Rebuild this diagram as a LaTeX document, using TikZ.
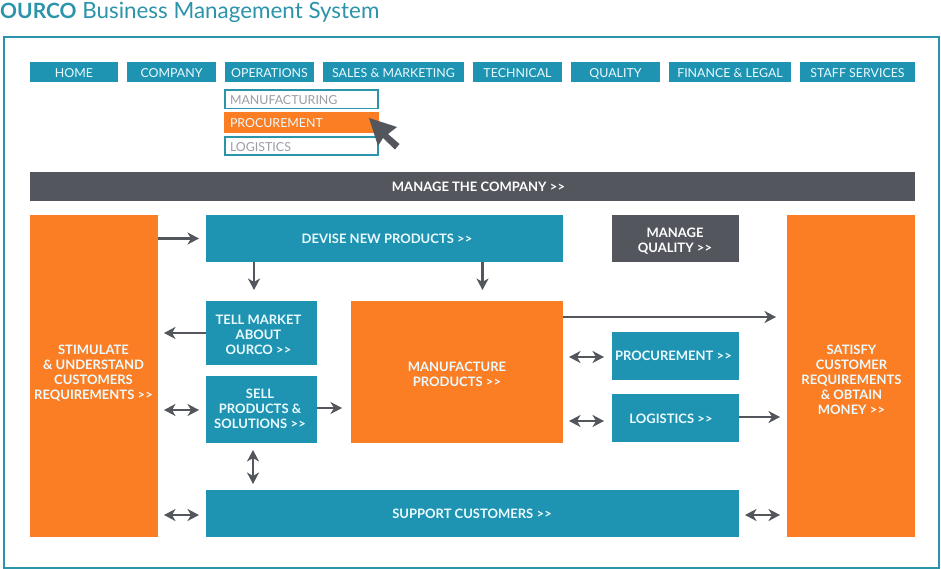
\documentclass[tikz,border=0pt]{standalone}
\usepackage{fontspec}
\setmainfont{Lato}
\usetikzlibrary{arrows.meta}
\definecolor{tealbox}{HTML}{1F93B2}
\definecolor{tealline}{HTML}{2B94AB}
\definecolor{orangebox}{HTML}{FB7D24}
\definecolor{slatebox}{HTML}{54565D}
\definecolor{greytext}{HTML}{9A9EA2}
\definecolor{lightline}{HTML}{EAFBFF}
\newcommand{\bx}[7][]{%
  \pgfmathsetmacro{\bxw}{#5-#3}\pgfmathsetmacro{\bxh}{#6-#4}%
  \pgfmathsetmacro{\bxx}{(#3+#5)/2}\pgfmathsetmacro{\bxy}{(#4+#6)/2}%
  \node[#1,minimum width=\bxw pt,minimum height=\bxh pt] (#2) at (\bxx,\bxy) {#7};}
% text placed dx right and dy down of the box centre, whatever its own extents
\newcommand{\tx}[3]{\raisebox{\dimexpr-4.7pt-#2pt\relax}[0pt][0pt]{\makebox[0pt]{\hspace*{\dimexpr 2\dimexpr #1pt\relax\relax}\begin{tabular}{@{}c@{}}#3\end{tabular}}}}
\newcommand{\lft}[1]{\raisebox{-5.4pt}[0pt][0pt]{\makebox[0pt][l]{\hspace*{-71.5pt}#1}}}
\newcommand{\gtgt}{>\kern0.2pt>}
\tikzset{
  x=1pt,y=-1pt,
  boxbase/.style={inner sep=0pt,outer sep=0pt,align=center,font=\fontsize{13}{15}\selectfont\bfseries,text=lightline},
  tealnode/.style={boxbase,fill=tealbox},
  orangenode/.style={boxbase,fill=orangebox},
  slatenode/.style={boxbase,fill=slatebox,text=white},
  navnode/.style={tealnode,font=\fontsize{12.4}{15}\selectfont},
  dropnode/.style={inner sep=0pt,outer sep=0pt,font=\fontsize{12.4}{15}\selectfont,text=greytext,fill=white,draw=tealline,line width=1.1pt},
  conn/.style={draw=slatebox,line width=2.2pt,-{Stealth[length=11.5pt,width=12pt,inset=3.5pt]}},
  conn2/.style={draw=slatebox,line width=2.2pt,{Stealth[length=11.5pt,width=12pt,inset=3.5pt]}-{Stealth[length=11.5pt,width=12pt,inset=3.5pt]}},
}
\begin{document}
\begin{tikzpicture}
\useasboundingbox (0,0) rectangle (941,569);
\fill[white] (0,0) rectangle (941,569);
\node[anchor=base west,inner sep=0pt,text=tealline,font=\fontsize{22.4}{26}\selectfont] (title) at (0,19) {{\fontsize{21}{26}\selectfont\bfseries OURCO} Business Management System};
\draw[tealline,line width=2pt] (3.5,37.5) rectangle (938.5,568);
\bx[navnode]{home}{30}{62}{118}{82}{\tx{0}{0.7}{HOME}}
\bx[navnode]{company}{127}{62}{216}{82}{\tx{0}{0.7}{COMPANY}}
\bx[navnode]{operations}{225}{62}{314}{82}{\tx{0}{0.7}{OPERATIONS}}
\bx[navnode]{sales}{323}{62}{464}{82}{\tx{0}{0.7}{SALES \& MARKETING}}
\bx[navnode]{technical}{473}{62}{562}{82}{\tx{0}{0.7}{TECHNICAL}}
\bx[navnode]{quality}{571}{62}{660}{82}{\tx{0}{0.7}{QUALITY}}
\bx[navnode]{finance}{669}{62}{791}{82}{\tx{0}{0.7}{FINANCE \& LEGAL}}
\bx[navnode]{staff}{800}{62}{915}{82}{\tx{0}{0.7}{STAFF SERVICES}}
\bx[dropnode]{mfgitem}{225}{90}{378}{108.5}{\lft{MANUFACTURING}}
\bx[dropnode,fill=orangebox,draw=orangebox,text=lightline]{procitem}{225}{113}{378}{132}{\lft{PROCUREMENT}}
\bx[dropnode]{logitem}{225}{137}{378}{155}{\lft{LOGISTICS}}
\fill[slatebox] (369,118) -- (397,127) -- (388,134) -- (399.5,144) -- (395,149.5) -- (383,138) -- (378,146) -- cycle;
\bx[slatenode]{manage}{30}{172}{915}{201}{\tx{6}{0}{MANAGE THE COMPANY \gtgt}}
\bx[orangenode]{stim}{30}{215}{158}{537}{\tx{-0.5}{-3.5}{STIMULATE\\\& UNDERSTAND\\CUSTOMERS\\REQUIREMENTS \gtgt}}
\bx[tealnode]{devise}{206}{215}{563}{262}{\tx{2.5}{0.5}{DEVISE NEW PRODUCTS \gtgt}}
\bx[slatenode]{mquality}{612}{215}{739}{262}{\tx{-0.5}{2}{MANAGE\\QUALITY \gtgt}}
\bx[orangenode]{satisfy}{787}{215}{915}{537}{\tx{0.5}{4}{SATISFY\\CUSTOMER\\REQUIREMENTS\\\& OBTAIN\\MONEY \gtgt}}
\bx[tealnode]{tell}{206}{301}{317}{364.5}{\tx{-3}{2.5}{TELL MARKET\\ABOUT\\OURCO \gtgt}}
\bx[tealnode]{sell}{206}{376}{317}{443}{\tx{-1.5}{-1}{SELL\\PRODUCTS \&\\SOLUTIONS \gtgt}}
\bx[orangenode]{manuf}{351}{301}{563}{443}{\tx{0}{2}{MANUFACTURE\\PRODUCTS \gtgt}}
\bx[tealnode]{proc}{612}{332}{739}{380}{\tx{-2}{0}{PROCUREMENT \gtgt}}
\bx[tealnode]{logi}{612}{393.5}{739}{441.5}{\tx{-4.5}{1}{LOGISTICS \gtgt}}
\bx[tealnode]{support}{206}{490}{739}{537}{\tx{-0.5}{0}{SUPPORT CUSTOMERS \gtgt}}
\coordinate (e1) at (199,238.5);
\coordinate (e2) at (254,290);
\coordinate (e3) at (482.5,290);
\coordinate (e4) at (164,333);
\coordinate (e5a) at (164,410);
\coordinate (e5b) at (199,410);
\coordinate (e6) at (342,408);
\coordinate (e7a) at (253,450);
\coordinate (e7b) at (253,484);
\coordinate (e8a) at (164,515);
\coordinate (e8b) at (199,515);
\coordinate (e9) at (776,317);
\coordinate (e10a) at (569,357);
\coordinate (e10b) at (604,357);
\coordinate (e11a) at (569,421);
\coordinate (e11b) at (604,421);
\coordinate (e12) at (780,417);
\coordinate (e13a) at (745,515);
\coordinate (e13b) at (780,515);
\draw[conn] (stim.east |- e1) -- (e1);
\draw[conn] (devise.south -| e2) -- (e2);
\draw[conn] (devise.south -| e3) -- (e3);
\draw[conn] (tell.west |- e4) -- (e4);
\draw[conn2] (e5a) -- (e5b);
\draw[conn] (sell.east |- e6) -- (e6);
\draw[conn2] (e7a) -- (e7b);
\draw[conn2] (e8a) -- (e8b);
\draw[conn] (manuf.east |- e9) -- (e9);
\draw[conn2] (e10a) -- (e10b);
\draw[conn2] (e11a) -- (e11b);
\draw[conn] (logi.east |- e12) -- (e12);
\draw[conn2] (e13a) -- (e13b);
\end{tikzpicture}
\end{document}
